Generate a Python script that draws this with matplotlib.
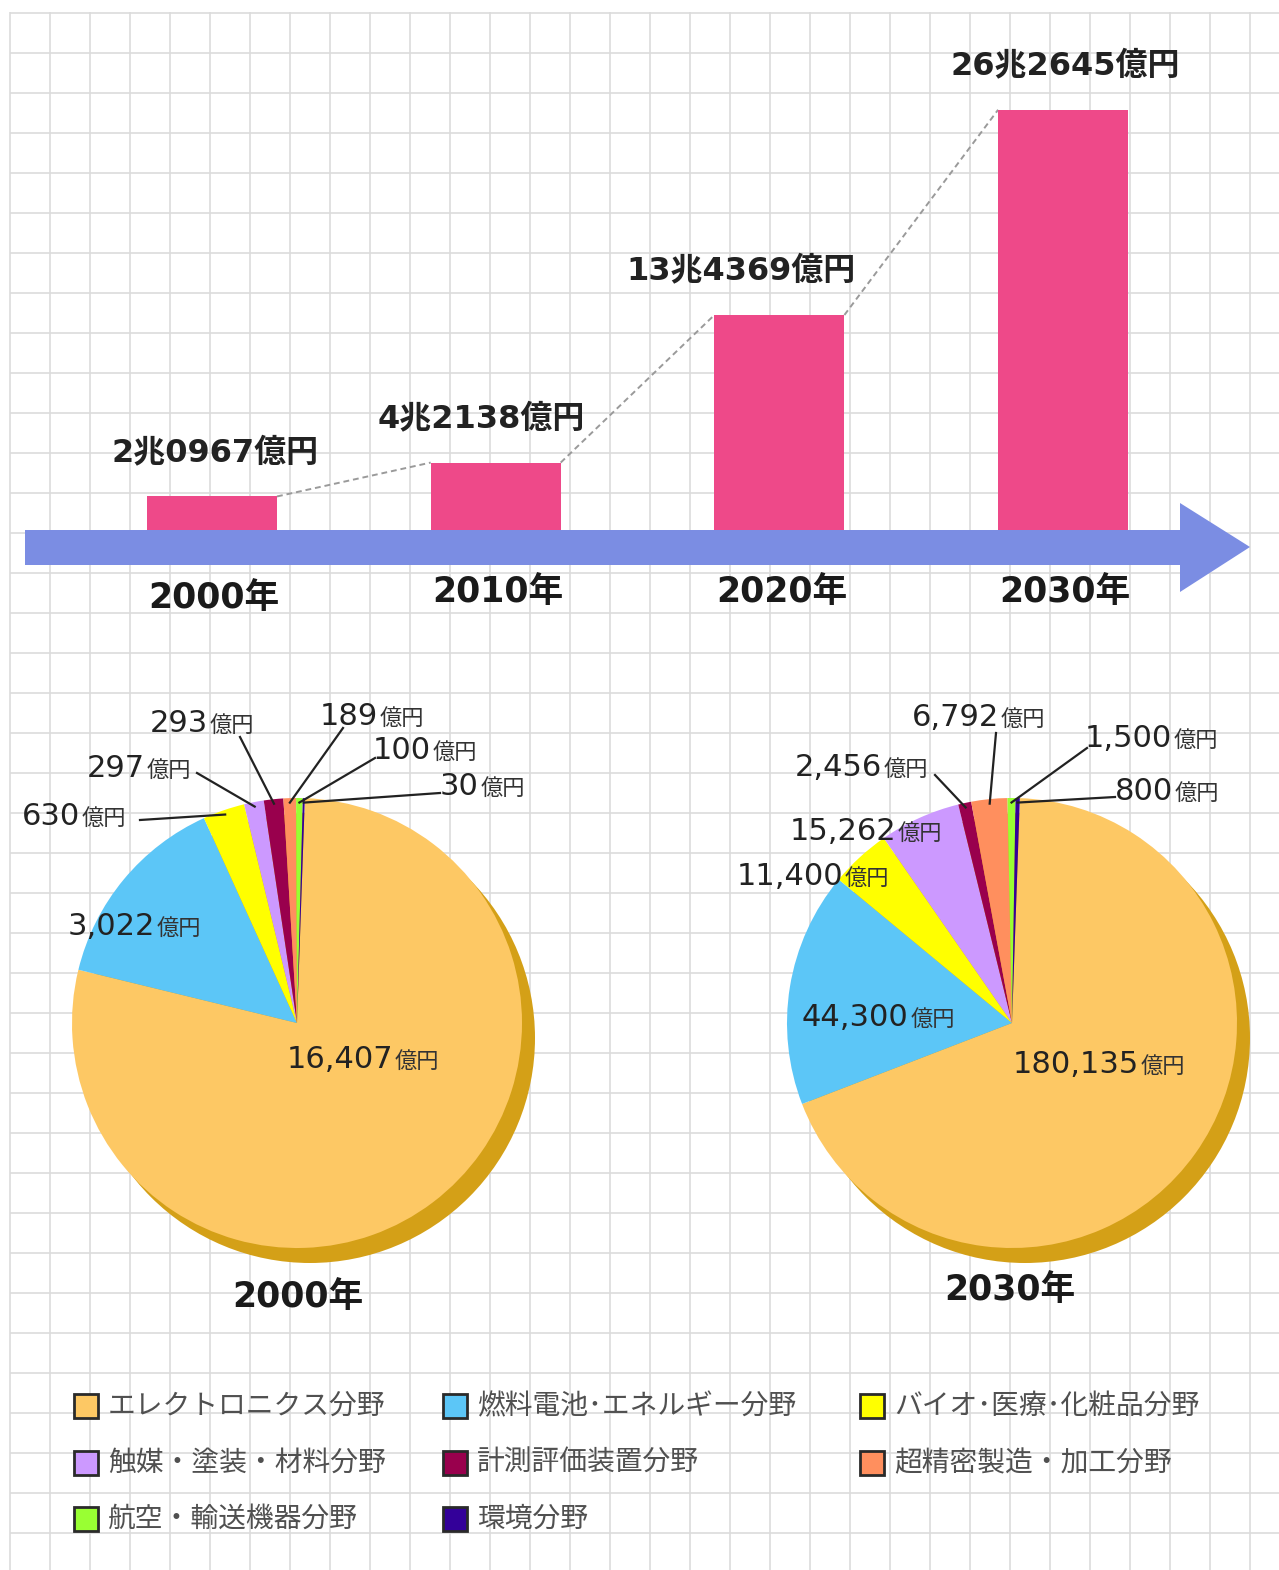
import numpy as np
import matplotlib
matplotlib.use('Agg')
import matplotlib.pyplot as plt
from matplotlib.patches import Polygon, Circle, Rectangle

plt.rcParams['font.family'] = ['DejaVu Sans', 'Noto Sans CJK JP']

# nanotech market size per year, in 億円
years = ['2000年', '2010年', '2020年', '2030年']
totals = [20967, 42138, 134369, 262645]

# breakdown by field (億円)
fields = ['エレクトロニクス分野', '燃料電池･エネルギー分野', 'バイオ･医療･化粧品分野',
          '触媒・塗装・材料分野', '計測評価装置分野', '超精密製造・加工分野',
          '航空・輸送機器分野', '環境分野']
share_2000 = [16407, 3022, 630, 297, 293, 189, 100, 30]
share_2030 = [180135, 44300, 11400, 15262, 2456, 6792, 1500, 800]
field_colors = ['#fdc864', '#5cc6f7', '#ffff00', '#cc99ff',
                '#99004d', '#ff8f5e', '#99ff33', '#330099']

W, H = 1279, 1570
PT = 72 / 100  # pixels -> points

fig = plt.figure(figsize=(W / 100, H / 100), dpi=100)

# base layer in pixel units (y up): grid paper, arrow, pies, legend
ax = fig.add_axes([0, 0, 1, 1])


def Y(py):
    return H - py


gx = np.arange(10, W, 40)
gy = np.arange(13, H, 40)
ax.vlines(gx, 0, Y(12), color='#dcdcdc', lw=1.2, zorder=0)
ax.hlines(Y(gy), 10, W, color='#dcdcdc', lw=1.2, zorder=0)

# time axis arrow
arrow = [(25, 530), (1180, 530), (1180, 503), (1250, 547),
         (1180, 592), (1180, 565), (25, 565)]
ax.add_patch(Polygon([(x, Y(y)) for x, y in arrow], closed=True,
                     facecolor='#7b8de3', edgecolor='none', zorder=1))

# ---- bar chart of totals ----
x0, step = 212, 283.7      # pixel centre of first bar, bar spacing
base_py, px_per = 530, 16  # baseline pixel row, pixels per 兆円
bx = fig.add_axes([0, 1 - base_py / H, 1, base_py / H])
bx.set_xlim(-x0 / step, (W - x0) / step)
bx.set_ylim(0, base_py / px_per)
bx.axis('off')

pos = np.arange(len(years))
vals = np.array(totals) / 10000
bw = 130 / step
bx.bar(pos, vals, width=bw, color='#ee4989', zorder=2)
for i in range(len(pos) - 1):
    bx.plot([pos[i] + bw / 2, pos[i + 1] - bw / 2], [vals[i], vals[i + 1]],
            ls=(0, (3, 2)), color='#9a9a9a', lw=1.4, zorder=1)


def oku_label(v):
    cho, oku = divmod(v, 10000)
    return f'{cho}兆{oku:04d}億円'


value_dx = [3, -14, -38, 2]
year_dy = [68, 62, 62, 62]
for i, v in enumerate(totals):
    bx.annotate(oku_label(v), xy=(pos[i], vals[i]),
                xytext=(value_dx[i] * PT, 44 * PT), textcoords='offset points',
                ha='center', va='center', fontsize=23, fontweight='bold',
                color='#222222', annotation_clip=False)
    bx.annotate(years[i], xy=(pos[i], 0),
                xytext=(2 * PT, -year_dy[i] * PT), textcoords='offset points',
                ha='center', va='center', fontsize=25, fontweight='bold',
                color='#1a1a1a', annotation_clip=False)

# ---- pies ----
R = 225


def draw_pie(values, cx, cy, label_xy, leaders, year, year_xy):
    ax.add_patch(Circle((cx + 13, Y(cy) - 15), R, facecolor='#d4a017',
                        edgecolor='none', zorder=2))
    wedges, _ = ax.pie(values, colors=field_colors, startangle=88,
                       counterclock=False, center=(cx, Y(cy)), radius=R,
                       wedgeprops=dict(linewidth=0, zorder=3))
    for k, v in enumerate(values):
        lx, ly = label_xy[k]
        t = ax.text(lx, Y(ly + 10), f'{v:,}', fontsize=22, color='#222222',
                    ha='left', va='baseline', family='DejaVu Sans', zorder=5)
        ax.annotate('億円', xy=(1, Y(ly + 10)), xycoords=(t, 'data'),
                    xytext=(1, 0), textcoords='offset points',
                    fontsize=16, color='#333333', ha='left', va='baseline',
                    family='Noto Sans CJK JP', zorder=5)
        if leaders[k] is not None:
            sx, sy = leaders[k]
            w = wedges[k]
            mid = np.deg2rad((w.theta1 + w.theta2) / 2)
            ex = cx + 0.98 * R * np.cos(mid)
            ey = Y(cy) + 0.98 * R * np.sin(mid)
            ax.plot([sx, ex], [Y(sy), ey], color='#222222', lw=1.6, zorder=4)
    ax.text(year_xy[0], Y(year_xy[1]), year, ha='center', va='center',
            fontsize=25, fontweight='bold', color='#1a1a1a', zorder=5)


labels_2000 = [(287, 1058), (68, 925), (22, 815), (87, 767),
               (150, 722), (320, 715), (373, 749), (440, 785)]
leaders_2000 = [None, None, (140, 820), (197, 773),
                (240, 737), (343, 728), (375, 758), (440, 793)]
draw_pie(share_2000, 297, 1023, labels_2000, leaders_2000, years[0], (298, 1297))

labels_2030 = [(1013, 1063), (802, 1016), (737, 875), (790, 830),
               (795, 766), (912, 716), (1085, 737), (1115, 790)]
leaders_2030 = [None, None, None, None,
                (935, 775), (996, 733), (1087, 748), (1115, 797)]
draw_pie(share_2030, 1012, 1023, labels_2030, leaders_2030, years[3], (1010, 1290))

# ---- legend, filled row by row ----
col_x = [86, 455, 872]
row_y = [1406, 1463, 1519]
for k, (name, c) in enumerate(zip(fields, field_colors)):
    x, y = col_x[k % 3], row_y[k // 3]
    ax.add_patch(Rectangle((x - 12, Y(y) - 12), 24, 24, facecolor=c,
                           edgecolor='#2a2a2a', lw=2.0, zorder=5))
    ax.text(x + 22, Y(y), name, fontsize=20, color='#505050', ha='left',
            va='center', family='Noto Sans CJK JP', zorder=5)

ax.set_xlim(0, W)
ax.set_ylim(0, H)
ax.set_aspect('auto')
ax.axis('off')

fig.savefig('out.png', dpi=100)
